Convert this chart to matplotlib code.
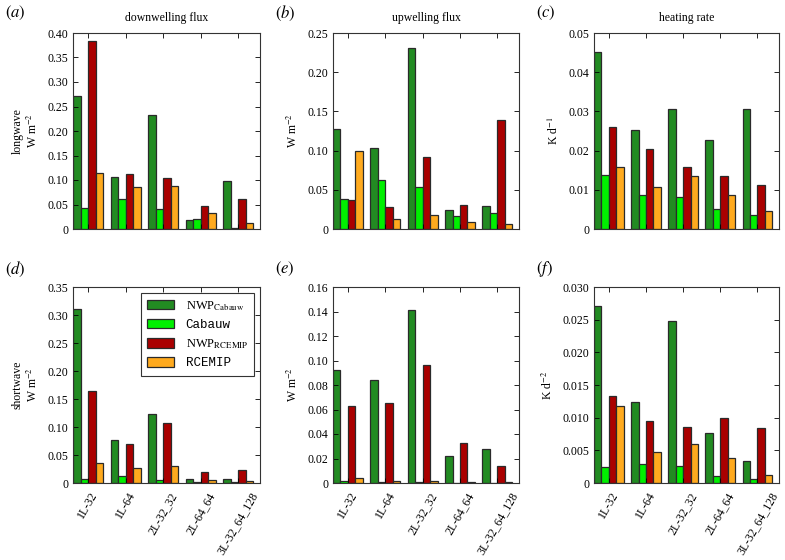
#!/usr/bin/env python3
import numpy as np
import matplotlib
matplotlib.use("Agg")
import matplotlib.pyplot as plt

plt.rcParams["font.family"] = ["Liberation Serif", "DejaVu Serif"]
plt.rcParams["mathtext.fontset"] = "stix"
plt.rcParams["font.size"] = 8.5

configs = ["1L-32", "1L-64", "2L-32_32", "2L-64_64", "3L-32_64_128"]
series = ["NWP$_{\\mathrm{Cabauw}}$", "Cabauw", "NWP$_{\\mathrm{RCEMIP}}$", "RCEMIP"]
colors = ["#228B22", "#00F000", "#AA0000", "#FFAA1E"]

# rows of each array: NWP_Cabauw, Cabauw, NWP_RCEMIP, RCEMIP ; columns: configs
lw_down = [[0.271, 0.107, 0.232, 0.018, 0.098],
           [0.043, 0.061, 0.041, 0.020, 0.003],
           [0.384, 0.113, 0.104, 0.046, 0.062],
           [0.115, 0.085, 0.088, 0.033, 0.013]]
lw_up = [[0.128, 0.103, 0.231, 0.024, 0.029],
         [0.038, 0.062, 0.053, 0.016, 0.020],
         [0.037, 0.028, 0.092, 0.030, 0.139],
         [0.099, 0.013, 0.018, 0.009, 0.006]]
lw_heat = [[0.0451, 0.0253, 0.0307, 0.0227, 0.0305],
           [0.0138, 0.0086, 0.0081, 0.0051, 0.0036],
           [0.0260, 0.0205, 0.0158, 0.0136, 0.0112],
           [0.0158, 0.0107, 0.0135, 0.0086, 0.0047]]
sw_down = [[0.311, 0.076, 0.124, 0.007, 0.008],
           [0.007, 0.013, 0.005, 0.002, 0.001],
           [0.165, 0.069, 0.108, 0.019, 0.024],
           [0.035, 0.026, 0.030, 0.006, 0.004]]
sw_up = [[0.092, 0.084, 0.1415, 0.022, 0.0278],
         [0.0015, 0.0012, 0.0007, 0.0003, 0.0002],
         [0.063, 0.0655, 0.0965, 0.0325, 0.014],
         [0.004, 0.0015, 0.0017, 0.0012, 0.0006]]
sw_heat = [[0.0271, 0.0124, 0.0248, 0.0076, 0.0033],
           [0.0025, 0.0029, 0.0026, 0.0010, 0.0006],
           [0.0133, 0.0095, 0.0085, 0.0100, 0.0084],
           [0.0118, 0.0047, 0.0060, 0.0039, 0.0013]]

panels = [
    # data, ylabel, ymax, step, decimals, title, letter
    (lw_down, "longwave\nW m$^{-2}$", 0.40, 0.05, 2, "downwelling flux", "a"),
    (lw_up, "W m$^{-2}$", 0.25, 0.05, 2, "upwelling flux", "b"),
    (lw_heat, "K d$^{-1}$", 0.05, 0.01, 2, "heating rate", "c"),
    (sw_down, "shortwave\nW m$^{-2}$", 0.35, 0.05, 2, None, "d"),
    (sw_up, "W m$^{-2}$", 0.16, 0.02, 2, None, "e"),
    (sw_heat, "K d$^{-2}$", 0.030, 0.005, 3, None, "f"),
]

W, H = 785, 560
fig = plt.figure(figsize=(W / 100, H / 100), dpi=100)

lefts = [73, 333, 594]
widths = [187, 186, 185]
tops = [33, 287]
height = 196

bw = 0.2
x = np.arange(len(configs))

for k, (data, ylab, ymax, step, dec, title, letter) in enumerate(panels):
    r, c = divmod(k, 3)
    ax = fig.add_axes([lefts[c] / W, 1 - (tops[r] + height) / H, widths[c] / W, height / H])
    for j in range(len(series)):
        ax.bar(x + j * bw, data[j], width=bw, align="edge", color=colors[j],
               edgecolor="#2a2a2a", linewidth=0.9, label=series[j])
    ax.set_xlim(0, 4.98)
    ax.set_ylim(0, ymax)
    yt = np.arange(0, ymax + step / 2, step)
    ax.set_yticks(yt)
    ax.set_yticklabels(["0"] + [f"{v:.{dec}f}" for v in yt[1:]])
    ax.set_xticks(x + 0.4)
    if r == 1:
        ax.set_xticklabels(configs, rotation=60, fontsize=8.5)
    else:
        ax.set_xticklabels([])
    ax.tick_params(direction="in", top=True, right=True, length=3.5, width=0.6)
    ax.tick_params(axis="x", pad=5)
    for s in ax.spines.values():
        s.set_linewidth(0.8)
        s.set_color("#333333")
    ax.set_ylabel(ylab, labelpad=5)
    if title:
        ax.set_title(title, fontsize=8.5, pad=9)
    fig.text((lefts[c] - 68 + (10 if c else 0)) / W, 1 - (13 if r == 0 else 269) / H,
             f"$({letter})$", fontsize=12, va="center", ha="left")
    if k == 3:
        leg = ax.legend(loc="upper right", fancybox=False, edgecolor="#333333",
                        framealpha=1, handlelength=2.2, handleheight=0.8,
                        handletextpad=0.9, borderpad=0.5, labelspacing=0.5,
                        fontsize=9, borderaxespad=0.45)
        leg.get_frame().set_linewidth(0.8)
        for t, name in zip(leg.get_texts(), series):
            if "$" not in name:
                t.set_family(["Liberation Mono", "DejaVu Sans Mono"])

fig.savefig("out.png", dpi=100)
